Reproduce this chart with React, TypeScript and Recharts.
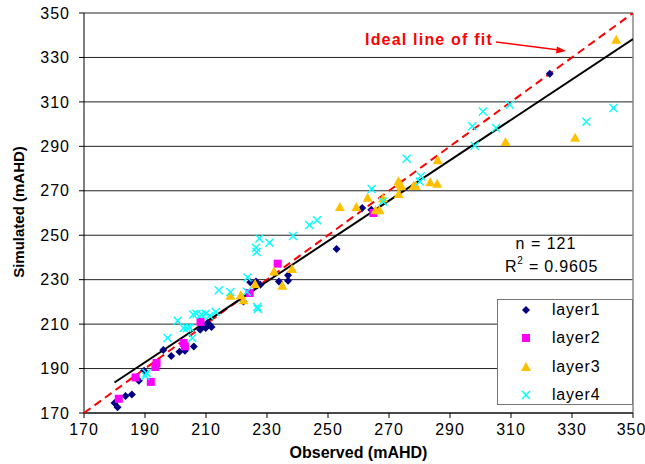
import {
  CartesianGrid,
  Legend,
  ReferenceLine,
  Scatter,
  ScatterChart,
  XAxis,
  YAxis,
} from "recharts";

const ticks = [170, 190, 210, 230, 250, 270, 290, 310, 330, 350];

const layer1 = [
  { x: 180, y: 174.5 }, { x: 181, y: 172.6 }, { x: 183.6, y: 177.6 }, { x: 185.7, y: 178.3 },
  { x: 188, y: 184.5 }, { x: 189.7, y: 189 }, { x: 196, y: 198.4 }, { x: 198.6, y: 195.7 },
  { x: 201.3, y: 197.6 }, { x: 203.1, y: 198 }, { x: 206, y: 199.9 }, { x: 208.1, y: 207.5 },
  { x: 209.9, y: 208.2 }, { x: 211.2, y: 209.7 }, { x: 211.8, y: 208.7 }, { x: 210.5, y: 210.5 },
  { x: 209.2, y: 209.3 }, { x: 222.3, y: 220.2 }, { x: 224.5, y: 228.8 }, { x: 226.4, y: 229.2 },
  { x: 227.8, y: 227.7 }, { x: 233.9, y: 229.2 }, { x: 236.9, y: 232 }, { x: 236.9, y: 229.5 },
  { x: 252.8, y: 243.8 }, { x: 261.2, y: 262.2 }, { x: 264.2, y: 261.5 }, { x: 322.7, y: 322.7 },
];

const layer2 = [
  { x: 181.4, y: 176.4 }, { x: 186.9, y: 186 }, { x: 191.9, y: 184 }, { x: 193.4, y: 190.7 },
  { x: 193.8, y: 192.5 }, { x: 202.7, y: 201.5 }, { x: 203.1, y: 200 }, { x: 208.2, y: 211 },
  { x: 224.3, y: 224 }, { x: 233.5, y: 237.2 }, { x: 264.9, y: 260 },
];

const layer3 = [
  { x: 218, y: 222.8 }, { x: 221.4, y: 223 }, { x: 222.3, y: 220.7 }, { x: 226.1, y: 228 },
  { x: 232.3, y: 233.7 }, { x: 235, y: 227.3 }, { x: 238.2, y: 234.8 }, { x: 253.9, y: 262.7 },
  { x: 259.3, y: 262.7 }, { x: 263, y: 266.9 }, { x: 265.6, y: 261.2 }, { x: 266.9, y: 261.2 },
  { x: 268, y: 266.5 }, { x: 273.1, y: 274.3 }, { x: 273.6, y: 273 }, { x: 274, y: 272 },
  { x: 273.2, y: 268.5 }, { x: 278.1, y: 272.3 }, { x: 278.8, y: 272.3 }, { x: 283.5, y: 273.8 },
  { x: 285.8, y: 273.2 }, { x: 286, y: 283.7 }, { x: 308.2, y: 292 }, { x: 331, y: 293.9 },
  { x: 344.5, y: 338 },
];

const layer4 = [
  { x: 190.1, y: 186.8 }, { x: 190.5, y: 188 }, { x: 197.4, y: 203.7 }, { x: 200.7, y: 211.5 },
  { x: 202.7, y: 208.2 }, { x: 203.8, y: 208.2 }, { x: 204.7, y: 208.5 }, { x: 205.5, y: 203.7 },
  { x: 205.8, y: 214.3 }, { x: 206.9, y: 214.7 }, { x: 208.5, y: 214.3 }, { x: 209.9, y: 214.7 },
  { x: 211.2, y: 213.8 }, { x: 213.2, y: 215.4 }, { x: 214.2, y: 225.2 }, { x: 218, y: 224.5 },
  { x: 223.6, y: 231 }, { x: 223.4, y: 224.6 }, { x: 226.8, y: 217.7 }, { x: 227, y: 216.8 },
  { x: 226.4, y: 244.4 }, { x: 226.6, y: 242.4 }, { x: 227.5, y: 248.5 }, { x: 230.8, y: 246.6 },
  { x: 238.5, y: 249.6 }, { x: 243.9, y: 254.6 }, { x: 246.4, y: 256.7 }, { x: 264.3, y: 270.8 },
  { x: 268, y: 265.2 }, { x: 275.8, y: 284.4 }, { x: 280.1, y: 274.2 }, { x: 280.4, y: 276.5 },
  { x: 297.3, y: 299 }, { x: 298.1, y: 290.3 }, { x: 300.8, y: 305.7 }, { x: 305.1, y: 298.2 },
  { x: 309.6, y: 308.7 }, { x: 334.7, y: 301.1 }, { x: 343.6, y: 307.2 },
];

// linear fit y = slope * x + intercept, drawn from 180 to 350
const fitSlope = 0.909;
const fitIntercept = 20.1;
const fitRange = [180, 350];
const fitLine = fitRange.map((x) => ({ x, y: fitSlope * x + fitIntercept }));
const idealLine = [
  { x: 170, y: 170 },
  { x: 350, y: 350 },
];

const legendItems = [
  { name: "layer1", kind: "diamond" },
  { name: "layer2", kind: "square" },
  { name: "layer3", kind: "triangle" },
  { name: "layer4", kind: "cross" },
];

const FONT = "'Liberation Sans', Arial, sans-serif";

function Marker({ kind, cx, cy }: { kind: string; cx: number; cy: number }) {
  if (kind === "diamond") {
    return <polygon points={`${cx},${cy - 4} ${cx + 4},${cy} ${cx},${cy + 4} ${cx - 4},${cy}`} fill="#000080" />;
  }
  if (kind === "square") {
    return <rect x={cx - 4} y={cy - 4} width={8} height={8} fill="#FF00FF" />;
  }
  if (kind === "triangle") {
    return <polygon points={`${cx},${cy - 5} ${cx + 5},${cy + 4} ${cx - 5},${cy + 4}`} fill="#FFC000" />;
  }
  return (
    <g stroke="#00FFFF" strokeWidth={1.4}>
      <line x1={cx - 4} y1={cy - 4} x2={cx + 4} y2={cy + 4} />
      <line x1={cx - 4} y1={cy + 4} x2={cx + 4} y2={cy - 4} />
    </g>
  );
}

const shapeOf = (kind: string) => (props: any) => <Marker kind={kind} cx={props.cx} cy={props.cy} />;

function LegendBox() {
  return (
    <div
      style={{
        width: 136,
        height: 106,
        border: "1px solid #777",
        background: "#fff",
        boxSizing: "border-box",
        fontFamily: FONT,
        fontSize: 16,
        letterSpacing: 0.8,
        color: "#000",
      }}
    >
      {legendItems.map((item, i) => (
        <div
          key={item.name}
          style={{ display: "flex", alignItems: "center", height: 28.3, marginTop: i === 0 ? -4 : 0 }}
        >
          <svg width={40} height={14} style={{ marginLeft: 8 }}>
            <Marker kind={item.kind} cx={20} cy={7} />
          </svg>
          <span style={{ marginLeft: 6 }}>{item.name}</span>
        </div>
      ))}
    </div>
  );
}

export default function App() {
  const tickStyle = { fill: "#000", fontSize: 16, fontFamily: FONT, letterSpacing: 1 };
  return (
    <div style={{ position: "absolute", left: 0, top: 0, width: 645, height: 464, background: "#fff" }}>
      <ScatterChart width={645} height={464} margin={{ top: 13, right: 12, left: 0, bottom: 0 }}>
        <CartesianGrid vertical={false} stroke="#222" strokeWidth={1} />
        <XAxis
          type="number"
          dataKey="x"
          domain={[170, 350]}
          ticks={ticks}
          tick={tickStyle}
          tickSize={5}
          tickMargin={6}
          stroke="#000"
          height={51}
          allowDataOverflow
          label={{
            value: "Observed (mAHD)",
            position: "insideBottom",
            offset: 6,
            style: { fontFamily: FONT, fontWeight: "bold", fontSize: 16, fill: "#000" },
          }}
        />
        <YAxis
          type="number"
          dataKey="y"
          domain={[170, 350]}
          ticks={ticks}
          tick={tickStyle}
          tickSize={5}
          tickMargin={9}
          stroke="#000"
          width={84}
          allowDataOverflow
        />
        <ReferenceLine x={350} stroke="#888" strokeWidth={1.5} />
        <Legend
          layout="vertical"
          align="center"
          verticalAlign="middle"
          wrapperStyle={{ left: 497, top: 299, width: 136, height: 106 }}
          content={() => <LegendBox />}
        />
        <Scatter
          data={idealLine}
          line={{ stroke: "#FF0000", strokeWidth: 2, strokeDasharray: "8 5" }}
          shape={() => <g />}
          legendType="none"
          isAnimationActive={false}
        />
        <Scatter
          data={fitLine}
          line={{ stroke: "#000", strokeWidth: 2 }}
          shape={() => <g />}
          legendType="none"
          isAnimationActive={false}
        />
        <Scatter name="layer1" data={layer1} shape={shapeOf("diamond")} isAnimationActive={false} />
        <Scatter name="layer2" data={layer2} shape={shapeOf("square")} isAnimationActive={false} />
        <Scatter name="layer3" data={layer3} shape={shapeOf("triangle")} isAnimationActive={false} />
        <Scatter name="layer4" data={layer4} shape={shapeOf("cross")} isAnimationActive={false} />
      </ScatterChart>
      <svg
        width={645}
        height={464}
        style={{ position: "absolute", left: 0, top: 0, pointerEvents: "none" }}
      >
        <text
          transform="translate(24, 212) rotate(-90)"
          textAnchor="middle"
          fontFamily={FONT}
          fontWeight="bold"
          fontSize={15}
        >
          Simulated (mAHD)
        </text>
        <text x={365} y={45} fill="#FF0000" fontFamily={FONT} fontWeight="bold" fontSize={16} letterSpacing={1.2}>
          Ideal line of fit
        </text>
        <line x1={496} y1={42} x2={559} y2={50} stroke="#FF0000" strokeWidth={1.3} />
        <polygon points="566,51 557,46.5 556,53.5" fill="#FF0000" />
        <text x={546} y={249} textAnchor="middle" fontFamily={FONT} fontSize={16} letterSpacing={1}>
          n = 121
        </text>
        <text x={505} y={272} fontFamily={FONT} fontSize={16} letterSpacing={0.8}>
          R<tspan fontSize={10} dy={-8}>2</tspan>
          <tspan dy={8}> = 0.9605</tspan>
        </text>
      </svg>
    </div>
  );
}
